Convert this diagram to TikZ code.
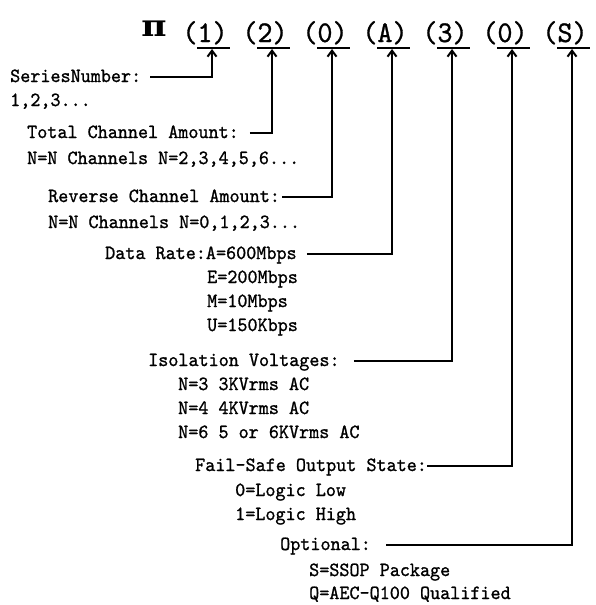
\documentclass[tikz,border=0pt]{standalone}
\usepackage{fontspec}
\usepackage{tikz}
\usetikzlibrary{arrows.meta, positioning}
\setmonofont{lmmono10-regular.otf}[FakeStretch=0.95, FakeBold=1]
\newfontfamily\pifont{DejaVu Serif}[FakeStretch=1.15]
\tikzstyle{txt} = [inner sep=0pt, anchor=west, font=\ttfamily\fontsize{20.2}{24}\selectfont, text height=15.15pt, text depth=5.05pt]
\tikzstyle{hdr} = [inner sep=0pt, anchor=base, font=\ttfamily\fontsize{30.1}{36}\selectfont]
\tikzstyle{bar} = [line width=2pt]
\tikzstyle{arrow} = [-{Straight Barb[length=6pt, width=9pt]}, line width=2pt]

\begin{document}
\begin{tikzpicture}[x=1pt, y=-1pt]
\useasboundingbox (0,0) rectangle (595,605);

% part number
\node[hdr, font=\pifont\bfseries\fontsize{30}{34}\selectfont] (pi) at (154,36) {π};
\foreach \c [count=\i] in {1,2,0,A,3,0,S} {
  \node[hdr] (c\i) at (145+60*\i,42) {(\c)};
  \coordinate (u\i) at (152+60*\i,49);
  \draw[bar] (137+60*\i,48) -- (170+60*\i,48);
}

% fields
\node[txt] (series) at (10,77) {SeriesNumber:};
\node[txt] (seriesv) at (10,101) {1,2,3...};
\node[txt] (total) at (27,133) {Total Channel Amount:};
\node[txt] (totalv) at (27,159) {N=N Channels N=2,3,4,5,6...};
\node[txt] (reverse) at (48,197) {Reverse Channel Amount:};
\node[txt] (reversev) at (48,223) {N=N Channels N=0,1,2,3...};
\node[txt] (rate) at (105,254) {Data Rate:A=600Mbps};
\foreach \t [count=\k] in {E=200Mbps, M=10Mbps, U=150Kbps}
  \node[txt] (rate\k) at (207,254+24*\k) {\t};
\node[txt] (iso) at (148,361) {Isolation Voltages:};
\foreach \t [count=\k] in {N=3 3KVrms AC, N=4 4KVrms AC, N=6 5 or 6KVrms AC}
  \node[txt] (iso\k) at (178,361+24*\k) {\t};
\node[txt] (fail) at (195,466) {Fail-Safe Output State:};
\foreach \t [count=\k] in {0=Logic Low, 1=Logic High}
  \node[txt] (fail\k) at (235,467+24*\k) {\t};
\node[txt] (opt) at (280,545) {Optional:};
\foreach \t [count=\k] in {S=SSOP Package, Q=AEC-Q100 Qualified}
  \node[txt] (opt\k) at (309,548+23*\k) {\t};

% leaders
\draw[arrow] ([xshift=9pt]series.east) -| (u1);
\draw[arrow] ([xshift=11pt]total.east) -| (u2);
\draw[arrow] ([xshift=2pt]reverse.east) -| (u3);
\draw[arrow] ([xshift=10pt]rate.east) -| (u4);
\draw[arrow] ([xshift=14pt]iso.east) -| (u5);
\draw[arrow] (fail.east) -| (u6);
\draw[arrow] ([xshift=15pt]opt.east) -| (u7);

\end{tikzpicture}
\end{document}
